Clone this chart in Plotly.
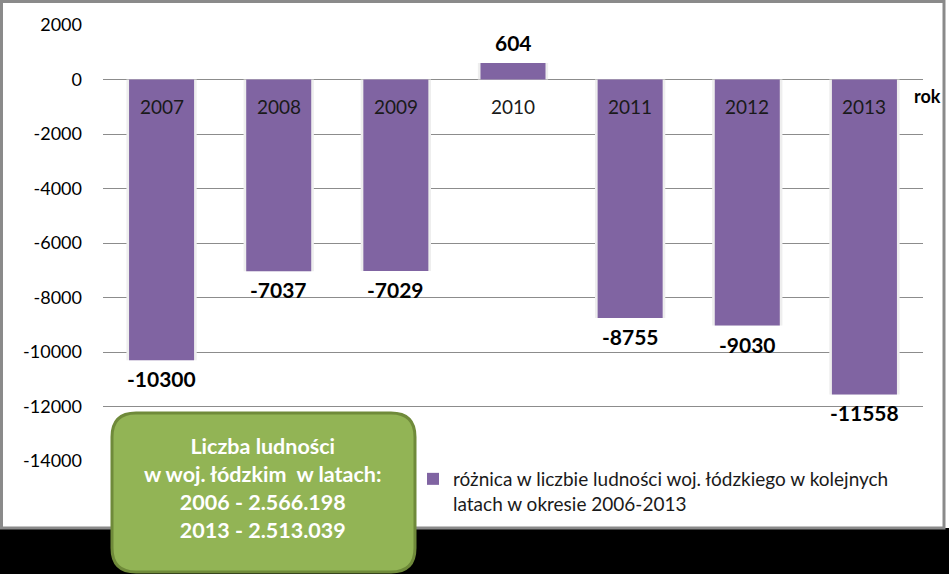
import plotly.graph_objects as go

# ---- data ----
years = ["2007", "2008", "2009", "2010", "2011", "2012", "2013"]
diff = [-10300, -7037, -7029, 604, -8755, -9030, -11558]
tick_vals = [2000, 0, -2000, -4000, -6000, -8000, -10000, -12000, -14000]
tick_text = ["2000", "0", "-2000", "-4000", "-6000", "-8000", "-10000", "-12000", "-14000"]
series_name = "różnica w liczbie ludności woj. łódzkiego w kolejnych<br>latach w okresie 2006-2013"
axis_label = "rok"
box_lines = ["Liczba ludności", "w woj. łódzkim&nbsp; w latach:", "2006 - 2.566.198", "2013 - 2.513.039"]

FONT = "Lato, Carlito, Calibri, sans-serif"
W, H = 949, 574
ML, MR, MT, MB = 103, 26, 25, 113
PW, PH = W - ML - MR, H - MT - MB


def px(x):
    return (x - ML) / PW


def py(y):
    return (H - MB - y) / PH


fig = go.Figure()
# soft shadow behind the bars
fig.add_trace(go.Bar(
    x=years, y=diff, width=0.6, showlegend=False, hoverinfo="skip",
    marker=dict(color="#eeeeee", line=dict(width=0)),
))
fig.add_trace(go.Bar(
    x=years, y=diff, name=series_name, width=0.555,
    marker=dict(color="#8064a2", line=dict(width=0)),
    showlegend=True,
))

annotations = []
for i, (yr, v) in enumerate(zip(years, diff)):
    annotations.append(dict(
        x=i, y=0, xref="x", yref="y", text=yr, showarrow=False,
        yanchor="middle", yshift=-27,
        font=dict(family=FONT, size=19, color="#1a1a1a"),
    ))
    annotations.append(dict(
        x=i, y=v, xref="x", yref="y", text="<b>%d</b>" % v, showarrow=False,
        yanchor="top" if v < 0 else "bottom", yshift=-4 if v < 0 else 6,
        font=dict(family=FONT, size=21, color="#000000"),
    ))

annotations.append(dict(
    x=px(927), y=py(96), xref="paper", yref="paper", text="<b>%s</b>" % axis_label,
    showarrow=False, xanchor="center", yanchor="middle",
    font=dict(family=FONT, size=18, color="#000000"),
))
annotations.append(dict(
    x=px(263), y=py(488), xref="paper", yref="paper",
    text="<br>".join("<b>%s</b>" % l for l in box_lines),
    showarrow=False, xanchor="center", yanchor="middle", align="center",
    font=dict(family=FONT, size=21.5, color="#ffffff"),
))


def rounded_rect(x0, y0, x1, y1, r):
    def P(x, y):
        return "%.5f,%.5f" % (px(x), py(y))
    pth = "M " + P(x0 + r, y0)
    pth += " L " + P(x1 - r, y0)
    pth += " Q " + P(x1, y0) + " " + P(x1, y0 + r)
    pth += " L " + P(x1, y1 - r)
    pth += " Q " + P(x1, y1) + " " + P(x1 - r, y1)
    pth += " L " + P(x0 + r, y1)
    pth += " Q " + P(x0, y1) + " " + P(x0, y1 - r)
    pth += " L " + P(x0, y0 + r)
    pth += " Q " + P(x0, y0) + " " + P(x0 + r, y0) + " Z"
    return pth


shapes = [
    dict(type="rect", xref="paper", yref="paper", x0=px(0), x1=px(W), y0=py(528), y1=py(H),
         fillcolor="#000000", line=dict(width=0), layer="above"),
    dict(type="rect", xref="paper", yref="paper", x0=px(1.5), x1=px(944), y0=py(1.5), y1=py(528),
         fillcolor="rgba(0,0,0,0)", line=dict(color="#8a8a8a", width=3), layer="above"),
    dict(type="path", xref="paper", yref="paper", path=rounded_rect(112, 413, 415, 572, 24),
         fillcolor="#92b455", line=dict(color="#6f8a3a", width=3), layer="above"),
]

fig.update_layout(
    width=W, height=H,
    margin=dict(l=ML, r=MR, t=MT, b=MB, pad=0),
    paper_bgcolor="#ffffff", plot_bgcolor="#ffffff",
    barmode="overlay",
    font=dict(family=FONT, size=17, color="#000000"),
    xaxis=dict(type="category", range=[-0.5, len(years) - 0.5], autorange=False,
               showticklabels=False, showgrid=False, zeroline=False,
               showline=False, ticks=""),
    yaxis=dict(range=[-14000, 2000], autorange=False, tickvals=tick_vals, ticktext=tick_text,
               showgrid=True, gridcolor="#8c8c8c", gridwidth=1,
               zeroline=True, zerolinecolor="#8c8c8c", zerolinewidth=1,
               showline=False, ticks="", ticklabelstandoff=20,
               tickfont=dict(family=FONT, size=18, color="#000000")),
    legend=dict(x=px(413), y=py(460), xanchor="left", yanchor="top",
                bgcolor="rgba(0,0,0,0)", valign="top",
                font=dict(family=FONT, size=19, color="#1a1a1a")),
    annotations=annotations,
    shapes=shapes,
)

fig.write_html("out.html")
